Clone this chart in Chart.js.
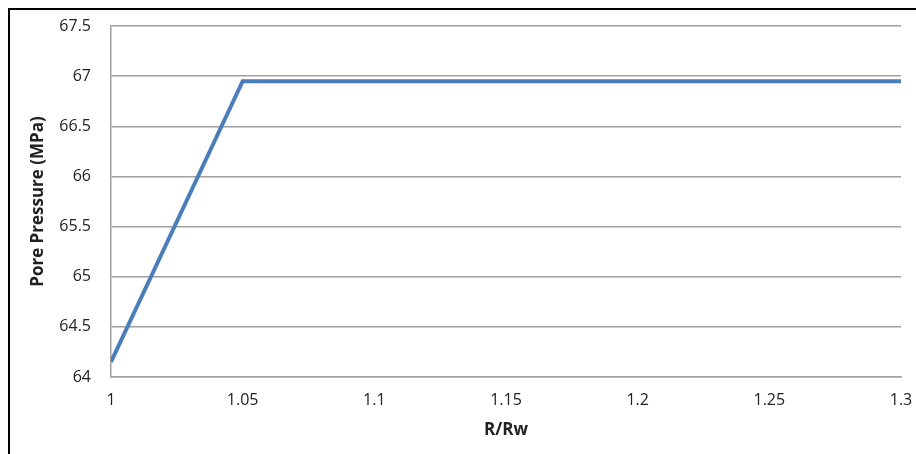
<!DOCTYPE html>
<html lang="en">
    <head>
        <meta charset="utf-8">
        <title>Pore Pressure vs R/Rw</title>
        <script src="https://cdn.jsdelivr.net/npm/chart.js"></script>
        <style>
            html, body { margin: 0; padding: 0; background: #ffffff; }
            .frame {
                position: absolute;
                left: 8px;
                top: 8px;
                width: 906px;
                height: 444px;
                border-left: 2px solid #000;
                border-top: 2px solid #000;
            }
            .frame canvas { display: block; }
        </style>
    </head>
    <body>
        <div class="frame">
            <canvas id="graph" width="906" height="444"></canvas>
        </div>
        <script>
            // R/Rw along the x axis, pore pressure in MPa
            var radiusRatio = [1, 1.05, 1.3];
            var porePressure = [64.15, 66.95, 66.95];
            var xTicks = [1, 1.05, 1.1, 1.15, 1.2, 1.25, 1.3];
            var yTicks = [64, 64.5, 65, 65.5, 66, 66.5, 67, 67.5];

            var points = [];
            for (var i = 0; i < radiusRatio.length; i++) {
                points.push({ x: radiusRatio[i], y: porePressure[i] });
            }

            var fontFamily = "'Open Sans', 'Noto Sans', sans-serif";

            const ctx = document.getElementById('graph').getContext('2d');
            const graph = new Chart(ctx, {
                type: 'line',
                data: {
                    datasets: [{
                        label: 'Pore Pressure',
                        data: points,
                        borderColor: '#4a7ebb',
                        borderWidth: 4,
                        pointRadius: 0,
                        tension: 0,
                        fill: false
                    }]
                },
                options: {
                    responsive: false,
                    animation: false,
                    layout: {
                        padding: { top: 16, right: 15, left: 0, bottom: 0 }
                    },
                    plugins: {
                        legend: { display: false },
                        tooltip: { enabled: false }
                    },
                    scales: {
                        x: {
                            type: 'linear',
                            min: xTicks[0],
                            max: xTicks[xTicks.length - 1],
                            afterBuildTicks: function(scale) {
                                scale.ticks = xTicks.map(function(v) { return { value: v }; });
                            },
                            afterFit: function(scale) {
                                scale.height = 77;
                                scale.paddingLeft = 0;
                                scale.paddingRight = 0;
                            },
                            grid: { display: false, drawTicks: false },
                            border: { display: true, color: '#a0a0a0', width: 1.5 },
                            ticks: {
                                color: '#222',
                                padding: 14,
                                font: { family: fontFamily, size: 16 },
                                callback: function(v) { return String(+v.toFixed(2)); }
                            },
                            title: {
                                display: true,
                                text: 'R/Rw',
                                color: '#222',
                                font: { family: fontFamily, size: 17, weight: 'bold' },
                                padding: { top: 0, bottom: 14 }
                            }
                        },
                        y: {
                            type: 'linear',
                            min: yTicks[0],
                            max: yTicks[yTicks.length - 1],
                            afterBuildTicks: function(scale) {
                                scale.ticks = yTicks.map(function(v) { return { value: v }; });
                            },
                            afterFit: function(scale) {
                                scale.width = 101;
                                scale.paddingTop = 0;
                                scale.paddingBottom = 0;
                            },
                            grid: { color: '#a0a0a0', lineWidth: 1.5, drawTicks: false },
                            border: { display: true, color: '#a0a0a0', width: 1.5 },
                            ticks: {
                                color: '#222',
                                padding: 20,
                                font: { family: fontFamily, size: 16 },
                                callback: function(v) { return String(+v.toFixed(1)); }
                            },
                            title: {
                                display: true,
                                text: 'Pore Pressure (MPa)',
                                color: '#222',
                                font: { family: fontFamily, size: 17, weight: 'bold' },
                                padding: { top: 18, bottom: 0 }
                            }
                        }
                    }
                }
            });
        </script>
    </body>
</html>
